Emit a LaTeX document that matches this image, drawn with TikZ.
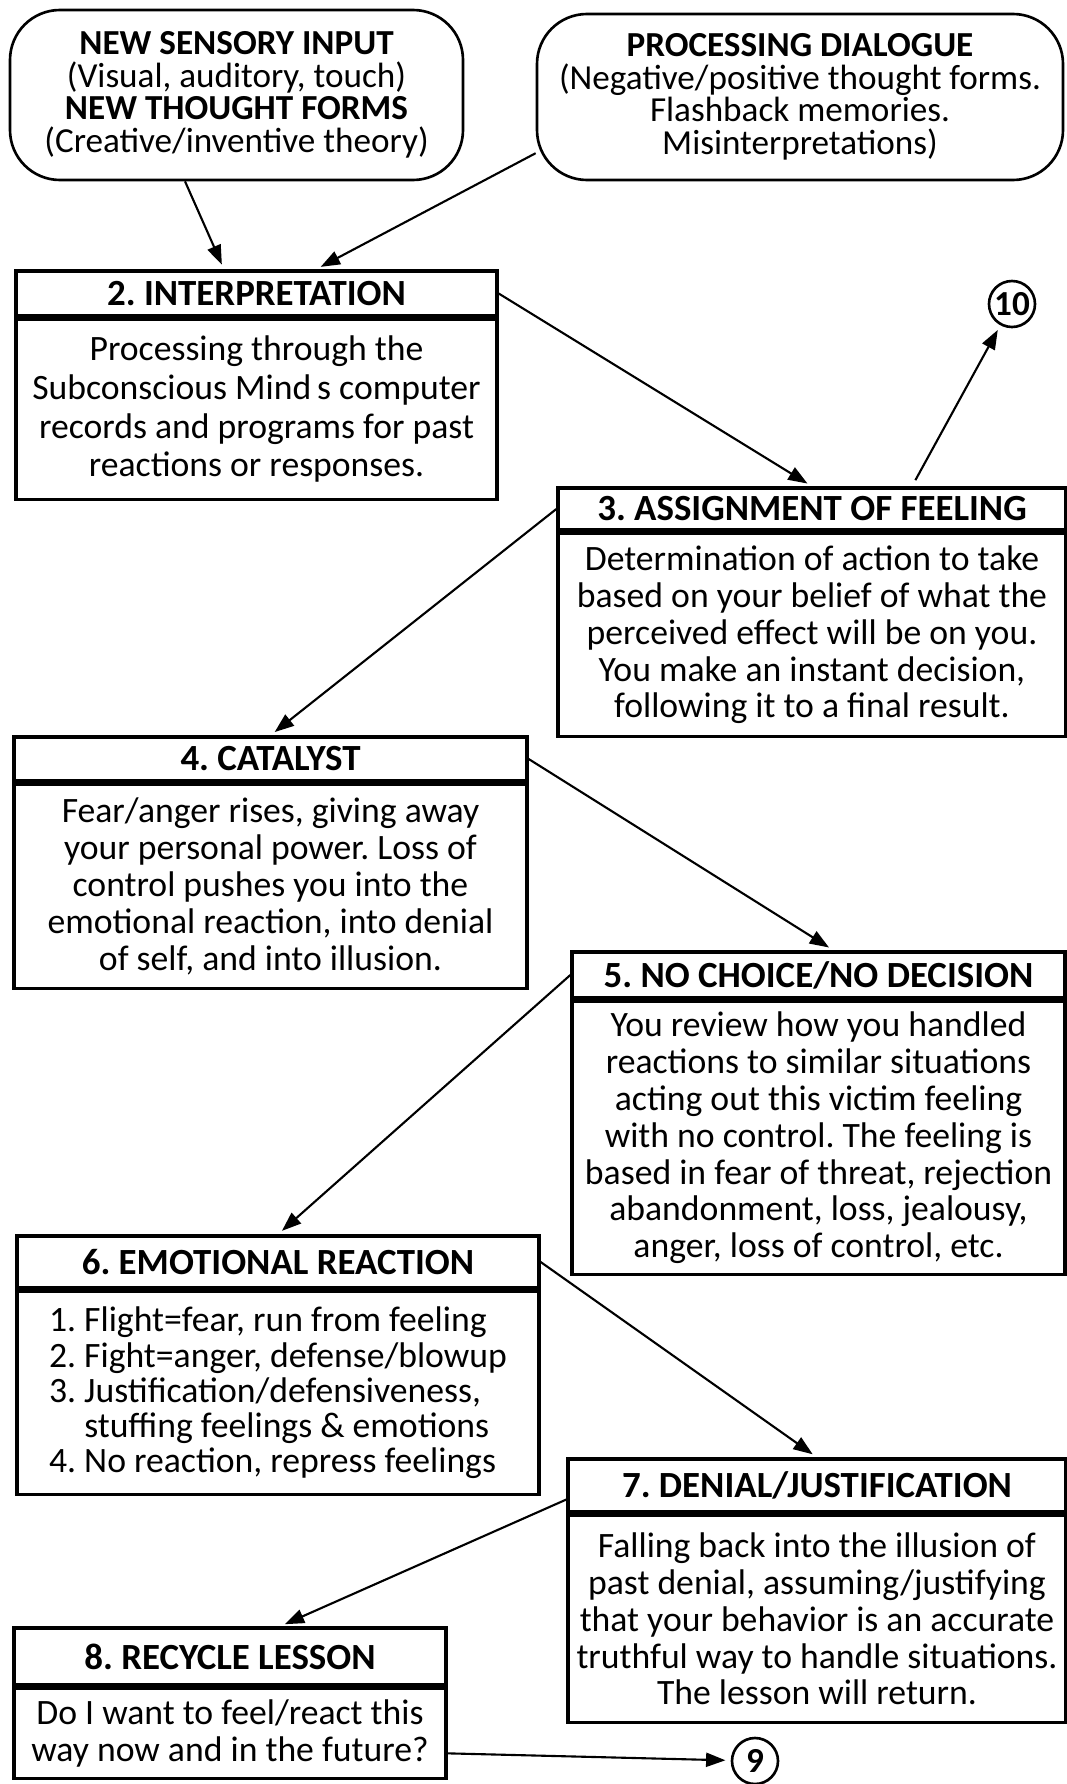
\documentclass[tikz,border=0pt]{standalone}
\usepackage{fontspec}
\setmainfont{Carlito}
\usepackage{tikz}
\usetikzlibrary{arrows.meta, positioning, calc}
\frenchspacing

\begin{document}
\begin{tikzpicture}[
    box/.style={rectangle, draw, line width=1.9pt, align=center, inner sep=2pt},
    head/.style={box, font=\fontsize{21}{21}\selectfont\bfseries},
    body/.style={box, font=\fontsize{20.3}{21}\selectfont},
    bubble/.style={rectangle, rounded corners=1cm, draw, line width=1.5pt,
                   align=center, font=\fontsize{20}{18.5}\selectfont},
    num/.style={circle, draw, line width=1.5pt, minimum size=0.92cm, inner sep=0pt,
                font=\fontsize{20}{20}\selectfont\bfseries},
    arr/.style={-{Triangle[length=11pt, width=8pt]}, line width=1.2pt, shorten >=3pt}]

    \useasboundingbox (0,0) rectangle (21.34,-35.68);

    % Inputs
    \node[bubble, minimum width=9.06cm, minimum height=3.4cm] (sensory) at (4.73,-1.9)
        {\textbf{NEW SENSORY INPUT}\\(Visual, auditory, touch)\\\textbf{NEW THOUGHT FORMS}\\(Creative/inventive theory)};
    \node[bubble, minimum width=10.52cm, minimum height=3.32cm] (dialogue) at (16,-1.94)
        {\textbf{PROCESSING DIALOGUE}\\(Negative/positive thought forms.\\Flashback memories.\\Misinterpretations)};

    % Steps
    \node[head, minimum width=9.62cm, minimum height=0.9cm] (interp) at (5.13,-5.87) {2. INTERPRETATION};
    \node[body, minimum width=9.62cm, minimum height=3.6cm, below=0pt of interp, font=\fontsize{20.3}{22}\selectfont] (interpB)
        {Processing through the\\Subconscious Mind\,s computer\\records and programs for past\\reactions or responses.};

    \node[head, minimum width=10.16cm, minimum height=0.84cm] (assign) at (16.24,-10.18) {3. ASSIGNMENT OF FEELING};
    \node[body, minimum width=10.16cm, minimum height=4.06cm, below=0pt of assign] (assignB)
        {Determination of action to take\\based on your belief of what the\\perceived effect will be on you.\\You make an instant decision,\\following it to a final result.};

    \node[head, minimum width=10.26cm, minimum height=0.88cm] (catalyst) at (5.41,-15.18) {4. CATALYST};
    \node[body, minimum width=10.26cm, minimum height=4.08cm, below=0pt of catalyst] (catalystB)
        {Fear/anger rises, giving away\\your personal power. Loss of\\control pushes you into the\\emotional reaction, into denial\\of self, and into illusion.};

    \node[head, minimum width=9.86cm, minimum height=0.92cm] (nochoice) at (16.37,-19.5) {5. NO CHOICE/NO DECISION};
    \node[body, minimum width=9.86cm, minimum height=5.46cm, below=0pt of nochoice] (nochoiceB)
        {You review how you handled\\reactions to similar situations\\acting out this victim feeling\\with no control. The feeling is\\based in fear of threat, rejection\\abandonment, loss, jealousy,\\anger, loss of control, etc.};

    \node[head, minimum width=10.44cm, minimum height=1.04cm] (emotion) at (5.56,-25.24) {6. EMOTIONAL REACTION};
    \node[body, minimum width=10.44cm, minimum height=4.06cm, below=0pt of emotion, align=left, font=\fontsize{20.3}{20}\selectfont] (emotionB)
        {1. Flight=fear, run from feeling\\2. Fight=anger, defense/blowup\\3. Justification/defensiveness,\\\phantom{3. }stuffing feelings \& emotions\\4. No reaction, repress feelings};

    \node[head, minimum width=9.96cm, minimum height=1.06cm] (denial) at (16.34,-29.71) {7. DENIAL/JUSTIFICATION};
    \node[body, minimum width=9.96cm, minimum height=4.14cm, below=0pt of denial] (denialB)
        {Falling back into the illusion of\\past denial, assuming/justifying\\that your behavior is an accurate\\truthful way to handle situations.\\The lesson will return.};

    \node[head, minimum width=8.64cm, minimum height=1.14cm] (recycle) at (4.6,-33.13) {8. RECYCLE LESSON};
    \node[body, minimum width=8.64cm, minimum height=1.8cm, below=0pt of recycle] (recycleB)
        {Do I want to feel/react this\\way now and in the future?};

    % Links out
    \node[num] (ten) at (20.24,-6.08) {10};
    \node[num] (nine) at (15.1,-35.22) {9};

    % Arrows
    \draw[arr] ([xshift=-1.03cm]sensory.south) -- ([xshift=-0.65cm]interp.north);
    \draw[arr] (dialogue.192) -- ([xshift=1.19cm]interp.north);
    \draw[arr] (interp.east) -- (assign.north);
    \draw[arr, shorten <=4pt] ([xshift=2cm]assign.north) -- (ten);
    \draw[arr] (assign.west) -- (catalyst.north);
    \draw[arr] (catalyst.east) -- ([xshift=0.3cm]nochoice.north);
    \draw[arr] (nochoice.west) -- (emotion.north);
    \draw[arr] (emotion.east) -- (denial.north);
    \draw[arr] ([yshift=-0.28cm]denial.west) -- ([xshift=1cm]recycle.north);
    \draw[arr] ([yshift=-0.4cm]recycleB.east) -- (nine);
\end{tikzpicture}
\end{document}
